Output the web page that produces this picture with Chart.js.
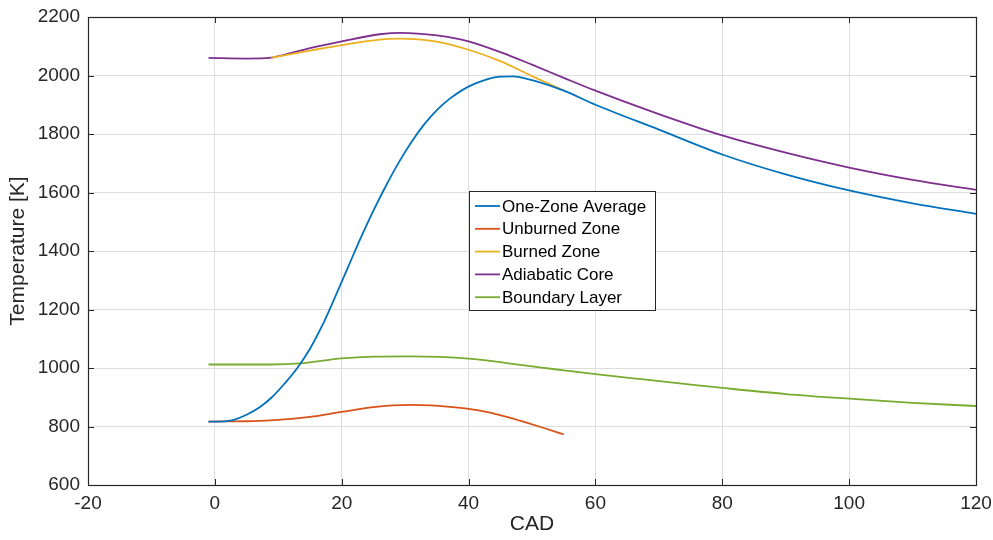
<!DOCTYPE html>
<html>
<head>
<meta charset="utf-8">
<script src="https://cdn.jsdelivr.net/npm/chart.js@4/dist/chart.umd.min.js"></script>
<style>
  html, body { margin: 0; padding: 0; background: #ffffff; }
  #wrap { width: 993px; height: 540px; position: relative; }
</style>
</head>
<body>
<div id="wrap"><canvas id="c" width="993" height="540"></canvas></div>
<script>
// ---- Data ----
const seriesLabels = ["One-Zone Average", "Unburned Zone", "Burned Zone", "Adiabatic Core", "Boundary Layer"];

const cadOneZone  = [-1, 1, 3, 5, 7, 9, 11, 13, 15, 17, 19, 21, 23, 25, 27, 29, 31, 33, 35, 37, 39, 41, 43, 45, 47, 50, 55, 60, 70, 80, 90, 100, 110, 120];
const tempOneZone = [817, 817, 823, 840, 865, 900, 947, 1000, 1066, 1148, 1245, 1345, 1445, 1538, 1624, 1703, 1773, 1833, 1882, 1920, 1950, 1972, 1988, 1996, 1997, 1984, 1948, 1900, 1815, 1730, 1662, 1607, 1563, 1527];

const cadUnburned  = [-1, 5, 8.7, 15, 20, 25, 28, 31, 34, 37, 40, 43, 46, 49, 52, 55];
const tempUnburned = [817, 818, 821, 833, 850, 866, 872, 874, 872, 867, 860, 849, 833, 814, 794, 773];

const cadBurned  = [8.9, 15, 20, 26, 29, 35, 40, 45, 50, 55.2];
const tempBurned = [2061, 2085, 2104, 2123, 2126, 2116, 2088, 2049, 1998, 1947];

const cadAdiabatic  = [-1, 5, 8.9, 10, 15, 20, 26, 29.3, 35, 40, 45, 50, 55, 60, 70, 80, 90, 100, 110, 120];
const tempAdiabatic = [2060, 2058, 2061, 2066, 2094, 2117, 2141, 2146, 2137, 2117, 2080, 2037, 1992, 1948, 1868, 1795, 1736, 1685, 1643, 1609];

const cadBoundary  = [-1, 8.7, 14, 20, 25, 30.7, 35.5, 40, 46, 51.2, 55, 60, 68, 76.5, 80, 90, 100, 110, 120];
const tempBoundary = [1012, 1012, 1017, 1033, 1039, 1040, 1038, 1032, 1017, 1002, 992, 979, 960, 940, 932, 911, 895, 881, 870];

const xTicks = [-20, 0, 20, 40, 60, 80, 100, 120];
const yTicks = [600, 800, 1000, 1200, 1400, 1600, 1800, 2000, 2200];

const colors = ["#0072BD", "#D95319", "#EDB120", "#7E2F8E", "#77AC30"];

// ---- Build datasets ----
function pts(xs, ys) { return xs.map((x, i) => ({ x: x, y: ys[i] })); }
const seriesData = [
  pts(cadOneZone, tempOneZone),
  pts(cadUnburned, tempUnburned),
  pts(cadBurned, tempBurned),
  pts(cadAdiabatic, tempAdiabatic),
  pts(cadBoundary, tempBoundary)
];

const FONT = '"Liberation Sans", Arial, Helvetica, sans-serif';
const AXIS = '#262626';

// Inward ticks + box around plot area
const boxPlugin = {
  id: 'boxTicks',
  afterDatasetsDraw(chart) {
    const ctx = chart.ctx, a = chart.chartArea;
    const xs = chart.scales.x, ys = chart.scales.y;
    ctx.save();
    ctx.strokeStyle = AXIS;
    ctx.lineWidth = 1;
    ctx.beginPath();
    const tl = 6;
    xs.ticks.forEach(t => {
      const px = Math.round(xs.getPixelForValue(t.value)) + 0.5;
      ctx.moveTo(px, a.bottom); ctx.lineTo(px, a.bottom - tl);
      ctx.moveTo(px, a.top); ctx.lineTo(px, a.top + tl);
    });
    ys.ticks.forEach(t => {
      const py = Math.round(ys.getPixelForValue(t.value)) + 0.5;
      ctx.moveTo(a.left, py); ctx.lineTo(a.left + tl, py);
      ctx.moveTo(a.right, py); ctx.lineTo(a.right - tl, py);
    });
    ctx.stroke();
    ctx.lineWidth = 1.2;
    ctx.strokeRect(Math.round(a.left) + 0.5, Math.round(a.top) + 0.5,
                   Math.round(a.right - a.left), Math.round(a.bottom - a.top));
    ctx.restore();
  }
};

// Legend box drawn inside the axes
const legendPlugin = {
  id: 'insideLegend',
  afterDraw(chart) {
    const ctx = chart.ctx;
    const bx = 469, by = 191, bw = 186, bh = 119;
    ctx.save();
    ctx.fillStyle = '#ffffff';
    ctx.fillRect(bx, by, bw, bh);
    ctx.strokeStyle = AXIS;
    ctx.lineWidth = 1;
    ctx.strokeRect(bx + 0.5, by + 0.5, bw, bh);
    ctx.font = '17px ' + FONT;
    ctx.textBaseline = 'middle';
    chart.data.datasets.forEach((ds, i) => {
      const cy = by + 15 + i * 22.8;
      ctx.strokeStyle = ds.borderColor;
      ctx.lineWidth = 1.8;
      ctx.beginPath();
      ctx.moveTo(bx + 6, cy); ctx.lineTo(bx + 31, cy);
      ctx.stroke();
      ctx.fillStyle = '#000000';
      ctx.fillText(ds.label, bx + 33, cy + 1);
    });
    ctx.restore();
  }
};

new Chart(document.getElementById('c'), {
  type: 'line',
  data: {
    datasets: seriesData.map((d, i) => ({
      label: seriesLabels[i],
      data: d,
      borderColor: colors[i],
      backgroundColor: colors[i],
      borderWidth: 1.8,
      pointRadius: 0,
      fill: false,
      cubicInterpolationMode: 'monotone'
    }))
  },
  options: {
    responsive: false,
    animation: false,
    events: [],
    layout: { padding: { left: 0, right: 17, top: 17, bottom: 0 } },
    plugins: { legend: { display: false }, tooltip: { enabled: false } },
    scales: {
      x: {
        type: 'linear',
        min: -20, max: 120,
        afterBuildTicks(scale) { scale.ticks = xTicks.map(v => ({ value: v })); },
        afterFit(scale) { scale.height = 55; scale.paddingLeft = 0; scale.paddingRight = 0; },
        ticks: { color: AXIS, font: { family: FONT, size: 19 }, padding: 7, maxRotation: 0,
                 callback: v => String(v) },
        grid: { color: '#dedede', lineWidth: 1, drawTicks: false },
        border: { display: false },
        title: { display: true, text: 'CAD', color: AXIS, font: { family: FONT, size: 21 }, padding: { top: 2, bottom: 3 } }
      },
      y: {
        type: 'linear',
        min: 600, max: 2200,
        afterBuildTicks(scale) { scale.ticks = yTicks.map(v => ({ value: v })); },
        afterFit(scale) { scale.width = 88; scale.paddingTop = 0; scale.paddingBottom = 0; },
        ticks: { color: AXIS, font: { family: FONT, size: 19 }, padding: 8,
                 callback: v => String(v) },
        grid: { color: '#dedede', lineWidth: 1, drawTicks: false },
        border: { display: false },
        title: { display: true, text: 'Temperature [K]', color: AXIS, font: { family: FONT, size: 21 }, padding: { top: 6, bottom: 4 } }
      }
    }
  },
  plugins: [boxPlugin, legendPlugin]
});
</script>
</body>
</html>
